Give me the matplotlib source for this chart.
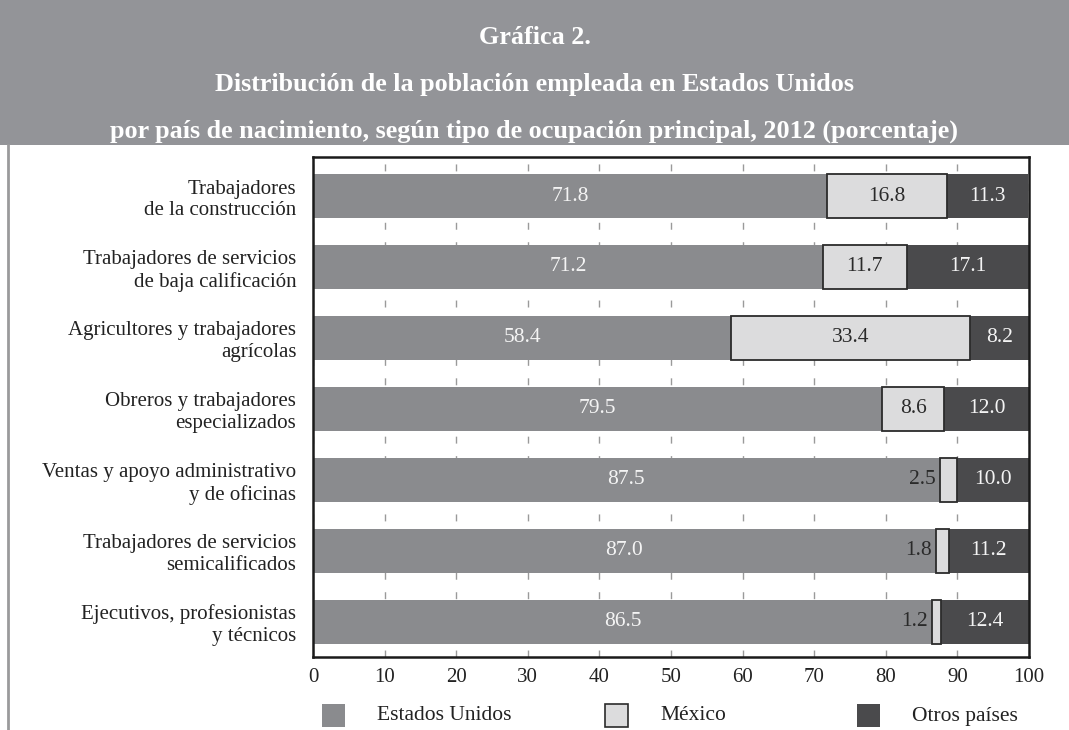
import numpy as np
import matplotlib
matplotlib.use("Agg")
import matplotlib.pyplot as plt
from matplotlib.patches import Rectangle
from matplotlib.lines import Line2D

# data: share of employed population by birth country (%)
categories = [
    "Trabajadores\nde la construcción",
    "Trabajadores de servicios\nde baja calificación",
    "Agricultores y trabajadores\nagrícolas",
    "Obreros y trabajadores\nespecializados",
    "Ventas y apoyo administrativo\ny de oficinas",
    "Trabajadores de servicios\nsemicalificados",
    "Ejecutivos, profesionistas\ny técnicos",
]
estados_unidos = [71.8, 71.2, 58.4, 79.5, 87.5, 87.0, 86.5]
mexico = [16.8, 11.7, 33.4, 8.6, 2.5, 1.8, 1.2]
otros = [11.3, 17.1, 8.2, 12.0, 10.0, 11.2, 12.4]
series_names = ["Estados Unidos", "México", "Otros países"]
xticks = [0, 10, 20, 30, 40, 50, 60, 70, 80, 90, 100]

C_US = "#8a8b8e"
C_MX = "#dcdcdd"
C_OT = "#4a4a4c"
C_HEAD = "#939498"
EDGE = "#2b2b2b"

plt.rcParams["font.family"] = ["Liberation Serif", "DejaVu Serif"]

fig = plt.figure(figsize=(10.69, 7.30), dpi=100)

# header band with title
fig.add_artist(Rectangle((0, 1 - 145 / 730), 1, 145 / 730, transform=fig.transFigure,
                         facecolor=C_HEAD, edgecolor="none", zorder=0))
fig.add_artist(Line2D([8 / 1069, 8 / 1069], [0, 1 - 145 / 730], transform=fig.transFigure,
                      color="#9a9a9c", lw=2))
title_lines = [
    "Gráfica 2.",
    "Distribución de la población empleada en Estados Unidos",
    "por país de nacimiento, según tipo de ocupación principal, 2012 (porcentaje)",
]
for i, line in enumerate(title_lines):
    fig.text(0.5, 1 - (38 + i * 46.5) / 730, line, ha="center", va="center",
             color="white", fontsize=18.8, fontweight="bold")

ax = fig.add_axes([313 / 1069, 1 - 657 / 730, 716 / 1069, 500 / 730])

y = np.arange(len(categories))
h = 0.62
us = np.array(estados_unidos)
mx = np.array(mexico)
ot = np.array(otros)

ax.barh(y, us, height=h, color=C_US, edgecolor="none", zorder=2)
ax.barh(y, mx, left=us, height=h, color=C_MX, edgecolor=EDGE, linewidth=1.3, zorder=3)
ax.barh(y, ot, left=us + mx, height=h, color=C_OT, edgecolor="none", zorder=2)

fs = 15.5
for yi, a, b, c in zip(y, us, mx, ot):
    ax.text(a / 2, yi, f"{a:.1f}", ha="center", va="center", color="#f4f4f4", fontsize=fs, zorder=4)
    if b < 5:
        ax.annotate(f"{b:.1f}", (a, yi), xytext=(-3, 0), textcoords="offset points",
                    ha="right", va="center", color="#2a2a2a", fontsize=fs, zorder=4)
    else:
        ax.text(a + b / 2, yi, f"{b:.1f}", ha="center", va="center", color="#2a2a2a",
                fontsize=fs, zorder=4)
    ax.text(a + b + c / 2, yi, f"{c:.1f}", ha="center", va="center", color="#f4f4f4",
            fontsize=fs, zorder=4)

ax.set_xlim(0, 100)
ax.set_ylim(6.5, -0.55)
ax.set_xticks(xticks)
ax.set_xticklabels([str(t) for t in xticks], fontsize=15, color="#222222")
ax.set_yticks(y)
ax.set_yticklabels(categories, fontsize=15, color="#222222", multialignment="right")
ax.tick_params(axis="both", length=0)
ax.tick_params(axis="x", pad=8)
ax.tick_params(axis="y", pad=12)
ax.grid(axis="x", color="#9a9a9a", linewidth=1, linestyle=(0, (5, 9)), zorder=1)
ax.set_axisbelow(True)
for s in ax.spines.values():
    s.set_color("#1a1a1a")
    s.set_linewidth(1.8)

# legend along the bottom
legend_items = [(C_US, "none", 322), (C_MX, EDGE, 605), (C_OT, "none", 857)]
for (fc, ec, px), name in zip(legend_items, series_names):
    fig.add_artist(Rectangle((px / 1069, 1 - 727 / 730), 23 / 1069, 23 / 730,
                             transform=fig.transFigure, facecolor=fc, edgecolor=ec,
                             linewidth=1.2))
    fig.text((px + 55) / 1069, 1 - 716 / 730, name, ha="left", va="center",
             fontsize=15.5, color="#222222")

fig.savefig("out.png", dpi=100)
